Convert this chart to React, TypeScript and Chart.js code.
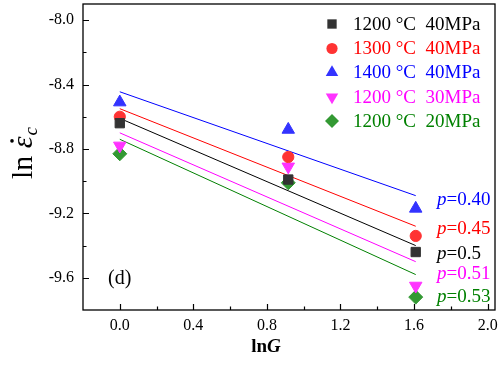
import React, { useEffect, useRef } from "react";
import { Chart, registerables } from "chart.js";
Chart.register(...registerables);

// ---- data ----
const lnG = [0, 0.916, 1.609];
const fitX = [0, 1.609];

const seriesNames = ["1200 °C  40MPa", "1300 °C  40MPa", "1400 °C  40MPa", "1200 °C  30MPa", "1200 °C  20MPa"];
const s1200_40 = [-8.64, -8.99, -9.44];
const s1300_40 = [-8.6, -8.85, -9.34];
const s1400_40 = [-8.51, -8.68, -9.17];
const s1200_30 = [-8.78, -8.91, -9.65];
const s1200_20 = [-8.83, -9.01, -9.72];

const fit1200_40 = [-8.61, -9.4];
const fit1300_40 = [-8.55, -9.28];
const fit1400_40 = [-8.445, -9.09];
const fit1200_30 = [-8.7, -9.5];
const fit1200_20 = [-8.74, -9.58];

const pValues = ["0.40", "0.45", "0.5", "0.51", "0.53"];
const pLabelY = [-9.12, -9.295, -9.45, -9.575, -9.72];

const yTicks = [-9.6, -9.2, -8.8, -8.4, -8.0];
const yMinor = [-9.4, -9.0, -8.6, -8.2];
const xTicks = [0, 0.4, 0.8, 1.2, 1.6, 2.0];
const xMinor = [0.2, 0.6, 1.0, 1.4, 1.8];

// ---- styles ----
const markerColors = ["#333333", "#FF3333", "#3333FF", "#FF33FF", "#339933"];
const lineColors = ["#000000", "#FF0000", "#0000FF", "#FF00FF", "#008000"];
const textColors = ["#000000", "#FF0000", "#0000FF", "#FF00FF", "#008000"];
const pColors = ["#0000FF", "#FF0000", "#000000", "#FF00FF", "#008000"];
const shapes: any[] = ["rect", "circle", "triangle", "triangle", "rectRot"];
const rotations = [0, 0, 0, 180, 0];
const radii = [6.6, 5.6, 7.2, 7.2, 7];
const SERIF = "'Liberation Serif', 'Times New Roman', serif";

Chart.defaults.font.family = SERIF;

const pointSeries = [s1200_40, s1300_40, s1400_40, s1200_30, s1200_20];
const fitSeries = [fit1200_40, fit1300_40, fit1400_40, fit1200_30, fit1200_20];

function drawMarker(ctx: any, style: string, r: number, rot: number, x: number, y: number) {
  ctx.beginPath();
  if (style === "rect") {
    const s = Math.SQRT1_2 * r;
    ctx.rect(x - s, y - s, 2 * s, 2 * s);
  } else if (style === "circle") {
    ctx.arc(x, y, r, 0, Math.PI * 2);
  } else if (style === "triangle") {
    const sign = rot === 180 ? -1 : 1;
    ctx.moveTo(x, y - sign * r);
    ctx.lineTo(x + Math.sin((2 * Math.PI) / 3) * r, y + sign * r * 0.5);
    ctx.lineTo(x - Math.sin((2 * Math.PI) / 3) * r, y + sign * r * 0.5);
    ctx.closePath();
  } else if (style === "rectRot") {
    ctx.moveTo(x, y - r);
    ctx.lineTo(x + r, y);
    ctx.lineTo(x, y + r);
    ctx.lineTo(x - r, y);
    ctx.closePath();
  }
  ctx.fill();
}

const decorPlugin = {
  id: "decor",
  afterDraw(chart: any) {
    const ctx = chart.ctx;
    const { left, right, top, bottom } = chart.chartArea;
    const xs = chart.scales.x;
    const ys = chart.scales.y;
    ctx.save();
    // border
    ctx.strokeStyle = "#000";
    ctx.lineWidth = 1.3;
    ctx.strokeRect(left, top, right - left, bottom - top);
    // ticks inward
    ctx.lineWidth = 1.2;
    ctx.beginPath();
    yTicks.forEach((v) => {
      const y = Math.round(ys.getPixelForValue(v)) + 0.5;
      ctx.moveTo(left, y);
      ctx.lineTo(left + 6, y);
    });
    yMinor.forEach((v) => {
      const y = Math.round(ys.getPixelForValue(v)) + 0.5;
      ctx.moveTo(left, y);
      ctx.lineTo(left + 3.5, y);
    });
    xTicks.forEach((v) => {
      const x = Math.round(xs.getPixelForValue(v)) + 0.5;
      ctx.moveTo(x, bottom);
      ctx.lineTo(x, bottom - 6);
    });
    xMinor.forEach((v) => {
      const x = Math.round(xs.getPixelForValue(v)) + 0.5;
      ctx.moveTo(x, bottom);
      ctx.lineTo(x, bottom - 3.5);
    });
    ctx.stroke();

    // tick labels
    ctx.fillStyle = "#000";
    ctx.font = `16px ${SERIF}`;
    ctx.textAlign = "right";
    ctx.textBaseline = "middle";
    yTicks.forEach((v) => {
      ctx.fillText(v.toFixed(1), left - 9, ys.getPixelForValue(v));
    });
    ctx.textAlign = "center";
    ctx.textBaseline = "top";
    xTicks.forEach((v) => {
      ctx.fillText(v.toFixed(1), xs.getPixelForValue(v), bottom + 8);
    });

    // legend
    const legX = 332;
    const legText = 353;
    const legY = [24, 48.5, 72.5, 97, 121];
    ctx.textBaseline = "middle";
    seriesNames.forEach((name, i) => {
      ctx.fillStyle = markerColors[i];
      drawMarker(ctx, shapes[i], radii[i], rotations[i], legX, legY[i]);
      ctx.fillStyle = textColors[i];
      ctx.font = `19px ${SERIF}`;
      ctx.textAlign = "left";
      ctx.fillText(name, legText, legY[i] + 1);
    });

    // p labels
    pValues.forEach((pv, i) => {
      const y = ys.getPixelForValue(pLabelY[i]);
      const x = 437;
      ctx.fillStyle = pColors[i];
      ctx.font = `italic 19px ${SERIF}`;
      ctx.textAlign = "left";
      ctx.textBaseline = "middle";
      ctx.fillText("p", x, y);
      const w = ctx.measureText("p").width;
      ctx.font = `19px ${SERIF}`;
      ctx.fillText("=" + pv, x + w, y);
    });

    // (d)
    ctx.fillStyle = "#000";
    ctx.font = `20px ${SERIF}`;
    ctx.textAlign = "left";
    ctx.textBaseline = "alphabetic";
    ctx.fillText("(d)", 108, 284);

    // x title
    ctx.font = `bold 19px ${SERIF}`;
    const w1 = ctx.measureText("ln").width;
    ctx.font = `italic bold 19px ${SERIF}`;
    const w2 = ctx.measureText("G").width;
    const cx = 266;
    const sx = cx - (w1 + w2) / 2;
    ctx.font = `bold 19px ${SERIF}`;
    ctx.fillText("ln", sx, 352);
    ctx.font = `italic bold 19px ${SERIF}`;
    ctx.fillText("G", sx + w1, 352);

    // y title
    ctx.translate(32, 153);
    ctx.rotate(-Math.PI / 2);
    ctx.font = `30px ${SERIF}`;
    const a = ctx.measureText("ln ").width;
    ctx.font = `italic 30px ${SERIF}`;
    const b = ctx.measureText("ε").width;
    ctx.font = `italic 19px ${SERIF}`;
    const c = ctx.measureText("c").width;
    const total = a + b + c + 1;
    let px = -total / 2;
    ctx.font = `30px ${SERIF}`;
    ctx.fillText("ln ", px, 0);
    px += a;
    ctx.font = `italic 30px ${SERIF}`;
    ctx.fillText("ε", px, 0);
    ctx.beginPath();
    ctx.arc(px + b * 0.62, -20, 1.8, 0, Math.PI * 2);
    ctx.fill();
    px += b + 1;
    ctx.font = `italic 19px ${SERIF}`;
    ctx.fillText("c", px, 5);
    ctx.restore();
  },
};

export default function App() {
  const ref = useRef<HTMLCanvasElement>(null);
  useEffect(() => {
    const canvas = ref.current!;
    const datasets: any[] = [];
    fitSeries.forEach((f, i) => {
      datasets.push({
        type: "line",
        data: fitX.map((x, j) => ({ x, y: f[j] })),
        borderColor: lineColors[i],
        borderWidth: 1,
        pointRadius: 0,
        showLine: true,
        fill: false,
        order: 2,
      });
    });
    pointSeries.forEach((s, i) => {
      datasets.push({
        type: "scatter",
        data: lnG.map((x, j) => ({ x, y: s[j] })),
        backgroundColor: markerColors[i],
        borderColor: markerColors[i],
        borderWidth: 1,
        pointStyle: shapes[i],
        pointRotation: rotations[i],
        pointRadius: radii[i],
        order: 1,
      });
    });
    const chart = new Chart(canvas, {
      type: "scatter",
      data: { datasets },
      options: {
        animation: false,
        responsive: false,
        devicePixelRatio: 1,
        layout: { autoPadding: false, padding: { left: 0, top: 4, right: 5, bottom: 0 } },
        plugins: { legend: { display: false }, tooltip: { enabled: false } },
        scales: {
          x: {
            type: "linear",
            min: -0.2,
            max: 2.04,
            grid: { display: false, drawTicks: false },
            border: { display: false },
            ticks: { display: false },
            afterFit: (s: any) => {
              s.height = 55;
              s.paddingLeft = 0;
              s.paddingRight = 0;
              s.paddingTop = 0;
              s.paddingBottom = 0;
            },
          },
          y: {
            type: "linear",
            min: -9.8,
            max: -7.9,
            grid: { display: false, drawTicks: false },
            border: { display: false },
            ticks: { display: false },
            afterFit: (s: any) => {
              s.width = 83;
              s.paddingLeft = 0;
              s.paddingRight = 0;
              s.paddingTop = 0;
              s.paddingBottom = 0;
            },
          },
        },
      } as any,
      plugins: [decorPlugin],
    });
    return () => chart.destroy();
  }, []);
  return (
    <div style={{ position: "absolute", left: 0, top: 0, width: 500, height: 365, background: "#fff" }}>
      <canvas ref={ref} width={500} height={365} style={{ display: "block", width: 500, height: 365 }} />
    </div>
  );
}
